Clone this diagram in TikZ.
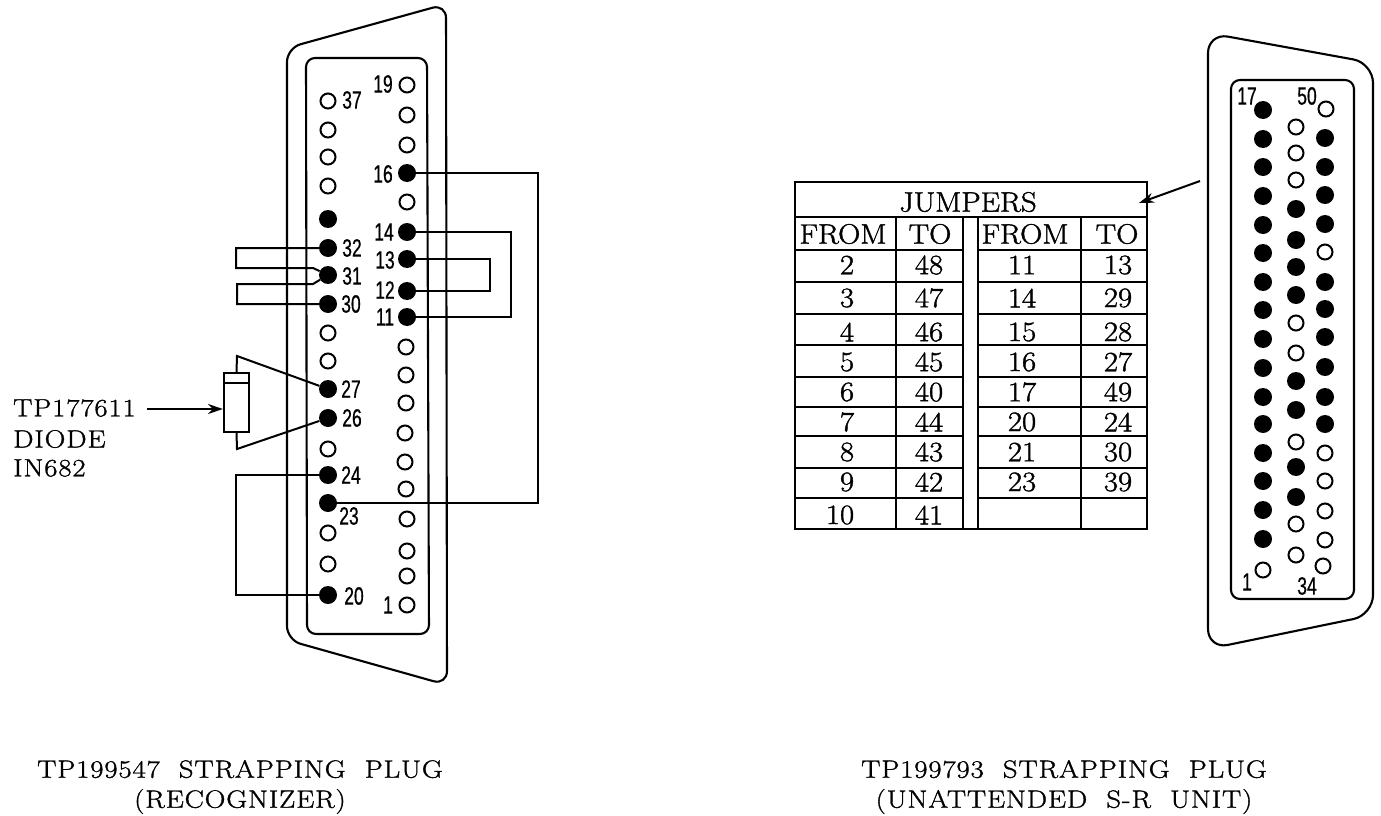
\documentclass[tikz,border=0pt]{standalone}
\usepackage{fontspec}
\setmainfont{Latin Modern Roman}
\newfontfamily\capfont[FakeStretch=1.15,LetterSpace=3.5,WordSpace=2,FakeBold=1.2]{Latin Modern Roman}
\newfontfamily\cellfont[FakeStretch=1.1,FakeBold=1.4]{Latin Modern Roman}
\newfontfamily\pinfont[FakeStretch=0.7,FakeBold=0.6]{Liberation Sans}
\usetikzlibrary{arrows.meta,positioning}
\tikzset{
  line/.style={line width=2.1pt},
  wire/.style={line width=2pt},
  rule/.style={line width=2.3pt},
  pointer/.style={wire,-{Stealth[length=15pt,width=10pt]}},
  pinopen/.style={circle,draw,line width=2pt,fill=white,inner sep=0pt,minimum size=15pt},
  pinfull/.style={circle,fill=black,inner sep=0pt,minimum size=18pt},
  pinlabel/.style={inner sep=0pt,font=\pinfont\fontsize{25}{25}\selectfont},
  cell/.style={inner sep=0pt,font=\cellfont\fontsize{28}{28}\selectfont},
  caption/.style={inner sep=0pt,align=center,font=\capfont\fontsize{25}{30}\selectfont}
}
\begin{document}
\begin{tikzpicture}[x=1pt,y=-1pt]
    \useasboundingbox (0,0) rectangle (1381,816);

    % left plug
    \draw [line,rounded corners=14pt] (287,48) -- (446,4) -- (447,685) -- (287,640) -- cycle;
    \draw [line,rounded corners=9pt] (306,58) -- (427,58) -- (429,634) -- (307,634) -- cycle;

    \foreach \n/\y/\s in {37/101/pinopen,a/130/pinopen,b/157/pinopen,c/186/pinopen,d/219/pinfull,
      32/248/pinfull,31/275/pinfull,30/304/pinfull,e/333/pinopen,g/361/pinopen,27/389/pinfull,
      26/418/pinfull,h/449/pinopen,24/475/pinfull,23/503/pinfull,i/533/pinopen,j/564/pinopen,20/595/pinfull}
      \node [\s] (p\n) at (328,\y) {};
    \foreach \n/\x/\y/\s in {19/407/85/pinopen,k/407/115/pinopen,l/407/145/pinopen,16/407/173/pinfull,
      m/407/202/pinopen,14/407/232/pinfull,13/407/259/pinfull,12/407/291/pinfull,11/407/317/pinfull,
      o/406/347/pinopen,q/406/375/pinopen,r/406/403/pinopen,s/405/433/pinopen,t/405/462/pinopen,
      u/406/489/pinopen,v/407/519/pinopen,w/407/551/pinopen,z/407/576/pinopen,1/407/605/pinopen}
      \node [\s] (p\n) at (\x,\y) {};

    \foreach \n/\x/\y in {37/352/100,19/383/84,16/383/174,14/384/232,13/385/260,12/385/290,11/385/317,
      32/352/248,31/352/276,30/351/304,27/351/389,26/352/418,24/351/475,23/349/516,20/354/596,1/388/605}
      \node [pinlabel] (l\n) at (\x,\y) {\n};

    % jumpers
    \coordinate (c16) at (538,300);
    \coordinate (c14) at (511,280);
    \coordinate (c13) at (490,280);
    \draw [wire] (p16) -| (c16) |- (p23);
    \draw [wire] (p14) -| (c14) |- (p11);
    \draw [wire] (p13) -| (c13) |- (p12);
    \coordinate (c32a) at (236,248);
    \coordinate (c32b) at (236,268);
    \coordinate (c31a) at (313,268);
    \coordinate (c31b) at (313,284);
    \coordinate (c30a) at (237,284);
    \coordinate (c30b) at (237,304);
    \draw [wire] (p32) -- (c32a) -- (c32b) -- (c31a) -- (p31);
    \draw [wire] (p31) -- (c31b) -- (c30a) -- (c30b) -- (p30);
    \coordinate (c24) at (236,530);
    \draw [wire] (p24) -| (c24) |- (p20);

    % diode
    \node [draw,line width=2.1pt,inner sep=0pt,minimum width=25pt,minimum height=59pt] (diode) at (236.5,402.5) {};
    \draw [line width=1.7pt] (224,383) -- (249,383);
    \coordinate (d27) at (237,356);
    \coordinate (d26) at (237,449);
    \draw [wire] (p27) -- (d27) -- (diode.north);
    \draw [wire] (p26) -- (d26) -- (diode.south);
    \node [caption,anchor=west] (diodea) at (13,408) {TP177611};
    \node [caption,anchor=west] (diodeb) at (13,439) {DIODE};
    \node [caption,anchor=west] (diodec) at (13,468) {IN682};
    \coordinate (d0) at (147,409);
    \draw [pointer] (d0) -- (diode.west |- d0);

    \node [caption] (capleft) at (240,787) {TP199547 STRAPPING PLUG\\(RECOGNIZER)};

    % table
    \draw [rule] (795,182) rectangle (1147,529);
    \draw [rule] (795,217) -- (1147,217);
    \foreach \x in {896,963,978,1081}
      \draw [rule] (\x,217) -- (\x,529);
    \foreach \y in {250,282,314,345,377,407,436,468,498} {
      \draw [rule] (795,\y) -- (963,\y);
      \draw [rule] (978,\y) -- (1147,\y);
    }
    \node [cell] (jumpers) at (968,202) {JUMPERS};
    \node [cell] (froma) at (843,234) {FROM};
    \node [cell] (toa) at (930,234) {TO};
    \node [cell] (fromb) at (1025,234) {FROM};
    \node [cell] (tob) at (1117,234) {TO};
    \foreach \y/\a/\b/\c/\d in {265/2/48/11/13,298/3/47/14/29,332/4/46/15/28,362/5/45/16/27,
      392/6/40/17/49,422/7/44/20/24,452/8/43/21/30,482/9/42/23/39} {
      \node [cell] (ra\a) at (847,\y) {\a};
      \node [cell] (rb\a) at (929,\y) {\b};
      \node [cell] (rc\a) at (1022,\y) {\c};
      \node [cell] (rd\a) at (1118,\y) {\d};
    }
    \node [cell] (ra10) at (840,515) {10};
    \node [cell] (rb10) at (929,515) {41};

    % right plug
    \draw [line,rounded corners=20pt] (1208,33) -- (1373,63) -- (1373,615) -- (1208,649) -- cycle;
    \draw [line,rounded corners=9pt] (1231,80) -- (1354,80) -- (1354,599) -- (1231,599) -- cycle;

    \coordinate (tabend) at (1139,203);
    \coordinate (tabstart) at (1200,181);
    \draw [pointer] (tabstart) -- (tabend);

    \foreach \n/\y in {17/110,b/139,c/167,d/196,e/225,g/253,h/282,i/310,j/339,k/368,l/397,m/424,o/453,q/481,r/510,s/539}
      \node [pinfull] (x\n) at (1263,\y) {};
    \node [pinopen] (x1) at (1263,570) {};
    \foreach \n/\y/\s in {a/127/pinopen,b/153/pinopen,c/180/pinopen,d/209/pinfull,e/240/pinfull,
      g/267/pinfull,h/295/pinfull,i/323/pinopen,j/353/pinopen,k/381/pinfull,l/410/pinfull,
      m/442/pinopen,o/467/pinfull,q/497/pinfull,r/524/pinopen,s/555/pinopen}
      \node [\s] (y\n) at (1296,\y) {};
    \foreach \n/\x/\y/\s in {50/1326/109/pinopen,b/1325/138/pinfull,c/1325/167/pinfull,d/1325/195/pinfull,
      e/1325/224/pinfull,g/1325/252/pinopen,h/1325/282/pinfull,i/1325/309/pinfull,j/1325/337/pinfull,
      k/1325/367/pinfull,l/1325/397/pinfull,m/1325/424/pinfull,o/1325/453/pinopen,q/1325/481/pinopen,
      r/1325/511/pinopen,s/1325/540/pinopen,34/1323/566/pinopen}
      \node [\s] (z\n) at (\x,\y) {};

    \node [pinlabel] (r17) at (1247,96) {17};
    \node [pinlabel] (r50) at (1307,96) {50};
    \node [pinlabel] (r1) at (1247,582) {1};
    \node [pinlabel] (r34) at (1307,586) {34};

    \node [caption] (capright) at (1064,787) {TP199793 STRAPPING PLUG\\(UNATTENDED S-R UNIT)};
\end{tikzpicture}
\end{document}
